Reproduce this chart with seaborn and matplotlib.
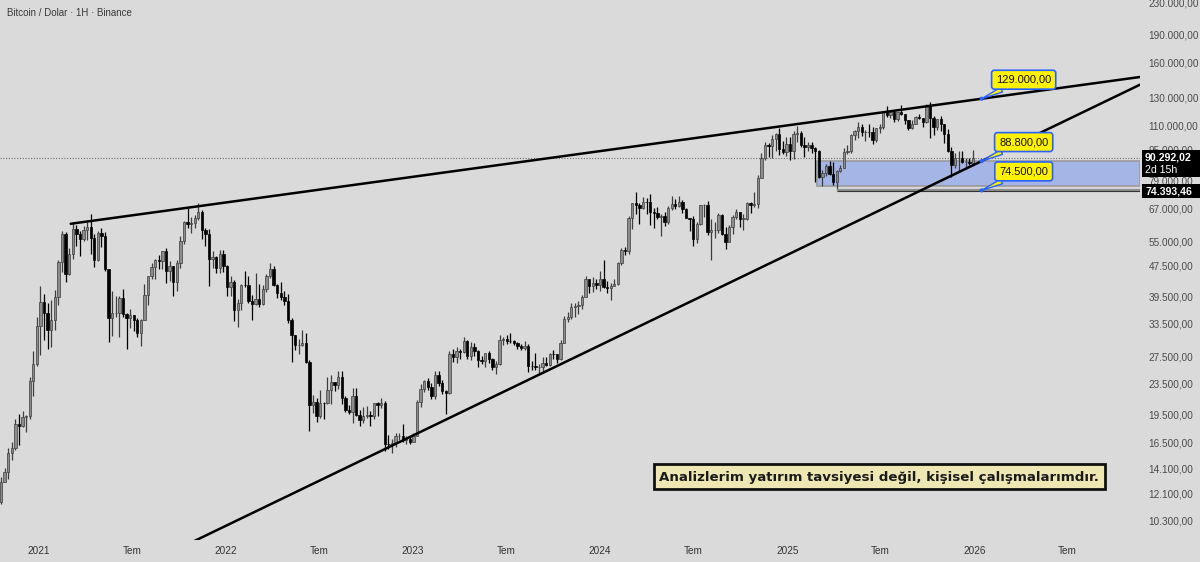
import numpy as np
import pandas as pd
import matplotlib
matplotlib.use("Agg")
import matplotlib.pyplot as plt
import matplotlib.dates as mdates
from matplotlib.patches import Rectangle
import seaborn as sns

# ---------------- data (weekly BTC candles) ----------------
first_week = "2020-10-12"
first_open = 11380
highs = [
    # 2020
    11720, 13350, 14100, 15970, 16480, 18950, 19480, 19920, 19420, 24300, 28400, 34800,
    # 2021
    41950, 40100, 37850, 38530, 40950, 49000, 58350, 58050, 52640, 61780, 60600, 58400, 60200,
    61500, 64850, 57500, 58450, 59450, 58000, 46650, 40900, 39500, 39500, 41300, 35750, 36600,
    35300, 34700, 34500, 42600, 44700, 48150, 49400, 50500, 51900, 52900, 48850, 47400, 49200,
    56550, 62000, 67000, 63700, 64300, 69000, 66300, 59300, 59200, 51950, 50150, 52100, 52100,
    # 2022
    47550, 44500, 43500, 38900, 42500, 45850, 44750, 39850, 45400, 42600, 42300, 45100, 48200,
    47500, 42450, 42950, 40800, 40000, 34700, 31300, 30650, 32200, 31800, 26900, 21900, 21500,
    22500, 21000, 24300, 24650, 23650, 25200, 25200, 21800, 20550, 22800, 22800, 19950, 20400,
    20450, 19900, 20850, 21000, 21450, 21050, 17200, 16800, 17400, 17450, 18400, 17100, 17000,
    # 2023
    17400, 21250, 23400, 23950, 24250, 23450, 25250, 25250, 24000, 22600, 28500, 28850, 29150,
    28900, 31000, 30500, 30000, 29850, 28650, 27600, 27400, 28450, 27300, 26800, 31400, 31050,
    31400, 31800, 30450, 30000, 29700, 30250, 29700, 26800, 28150, 26400, 27500, 27450, 28050,
    28600, 27950, 30350, 35200, 36000, 38000, 37950, 38400, 39700, 44500, 43450, 44400, 43800,
    # 2024
    45900, 49000, 43200, 42850, 43850, 48600, 52800, 52950, 64000, 69200, 73800, 68900, 71750,
    71350, 72800, 66900, 67250, 64750, 65500, 67700, 71950, 70600, 71950, 70200, 66950, 63300,
    63850, 61500, 68400, 68500, 70000, 62700, 61800, 65000, 64500, 59800, 60650, 64100, 66500,
    65550, 64500, 69400, 69500, 73600, 81500, 93250, 99600, 98900, 104100, 105250, 108350, 99950,
    102750,
    # 2025
    102700, 106400, 109600, 106450, 102500, 99500, 99500, 96500, 95000, 84000, 87450, 88750,
    88500, 84000, 86500, 95750, 97900, 104300, 106700, 111980, 110700, 106800, 110550, 108950,
    108500, 110550, 119500, 123200, 120250, 119800, 119400, 124500, 117600, 113600, 113400,
    116650, 117900, 115250, 125100, 126200, 116000, 113950, 116400, 110800, 107500, 96650,
    93100, 94150, 94600, 90300, 90550, 94800,
]
lows = [
    # 2020
    11200, 11410, 12960, 13200, 14840, 15780, 16200, 18100, 17570, 19000, 21800, 26000,
    # 2021
    27730, 30420, 28850, 29240, 32300, 37400, 45570, 43000, 45000, 49300, 53270, 50300, 54900,
    55470, 51000, 47040, 48800, 53000, 46000, 30000, 31200, 34800, 31000, 34800, 28800, 32700,
    32050, 31020, 29280, 34300, 37500, 43800, 43950, 46400, 46500, 42850, 43400, 39600, 40750,
    46900, 53900, 59600, 57800, 59400, 62300, 55600, 53300, 42000, 46800, 45500, 45550, 45700,
    # 2022
    39650, 39500, 34000, 32900, 36300, 41650, 38000, 34320, 37450, 37150, 37550, 40500, 44200,
    42100, 39200, 38550, 37550, 33700, 26700, 28600, 28000, 29300, 26550, 17600, 19650, 18600,
    19050, 18900, 20750, 20700, 22400, 22700, 20750, 19800, 19500, 18550, 19300, 18150, 18470,
    19100, 18200, 18900, 19250, 20200, 15600, 15800, 15480, 16000, 16700, 16500, 16300, 16350,
    # 2023
    16500, 17100, 20400, 22300, 22550, 21400, 21350, 23100, 21950, 19550, 21950, 26600, 26550,
    27200, 28200, 27150, 26950, 27650, 25800, 26300, 25880, 26500, 25350, 24800, 26250, 29500,
    29700, 29950, 29550, 28850, 28600, 28700, 25150, 25350, 25350, 24900, 24900, 26000, 26000,
    27200, 26550, 26950, 29900, 33900, 34500, 34800, 35600, 36700, 39300, 40200, 40500, 41300,
    # 2024
    40750, 41500, 40300, 38550, 41900, 42300, 47700, 50500, 50900, 59000, 64600, 60800, 66600,
    64500, 60650, 59600, 62800, 56550, 60200, 60750, 66050, 66600, 67500, 65050, 63100, 58400,
    53500, 54250, 60650, 63450, 57100, 49000, 56100, 57850, 57200, 52550, 54550, 57500, 62650,
    59850, 58900, 62450, 65050, 67450, 66850, 80200, 89400, 90800, 90500, 94200, 92250, 92500,
    91500,
    # 2025
    89250, 89950, 99500, 96800, 91200, 94100, 93400, 78250, 80000, 76600, 81150, 81650,
    77150, 74500, 83000, 85150, 92800, 93400, 100700, 102000, 103100, 100400, 102650, 98200,
    99600, 105100, 107450, 115750, 114700, 112000, 112650, 116800, 110600, 107250, 107300,
    110600, 114400, 108650, 111550, 102000, 103500, 106700, 106300, 98950, 94000, 80600,
    85300, 83800, 87600, 84450, 86600, 86800,
]
closes = [
    # 2020
    11500, 13030, 13760, 15480, 15960, 18410, 18180, 19150, 19270, 23780, 26270, 33000,
    # 2021
    38150, 35800, 32260, 34300, 39250, 48580, 57410, 45140, 50970, 59000, 57350, 55780, 58700,
    59770, 56150, 49100, 57800, 56600, 46450, 34650, 35650, 35800, 39100, 35500, 34700, 35300,
    34250, 31800, 34300, 39850, 44600, 47100, 49250, 48800, 51750, 45900, 47250, 43150, 48200,
    54950, 61500, 60900, 61300, 63300, 65500, 58600, 57300, 49400, 50100, 46700, 50800, 47300,
    # 2022
    41850, 43100, 36300, 37900, 42400, 42200, 38400, 37700, 38800, 37800, 41300, 44500, 46400,
    42150, 40400, 39450, 38450, 34300, 31300, 29450, 29450, 29900, 26600, 20550, 21000, 19300,
    20850, 20800, 22600, 23650, 23200, 24300, 21500, 20000, 19800, 21800, 19400, 18800, 19300,
    19400, 19250, 20800, 20600, 20900, 16350, 16280, 16450, 17100, 17100, 16750, 16850, 16550,
    # 2023
    17100, 20950, 22700, 23750, 22950, 21800, 24650, 23500, 22350, 22150, 28000, 27450, 28450,
    28350, 30300, 27600, 29250, 28450, 26900, 26750, 28100, 27100, 25850, 26350, 30500, 30600,
    30300, 30250, 29800, 29300, 29050, 29300, 26100, 26000, 25850, 25850, 26550, 26250, 27950,
    27900, 27150, 29950, 34500, 35000, 37050, 37350, 37450, 39450, 43800, 41900, 42700, 42300,
    # 2024
    43950, 41750, 41600, 42050, 42600, 48300, 52100, 51700, 63100, 68950, 68400, 67200, 69650,
    69350, 65650, 64950, 63400, 63950, 61500, 67050, 68500, 67750, 69650, 66700, 63200, 62700,
    55850, 60800, 68150, 68250, 58100, 58700, 58900, 64200, 57300, 54850, 59950, 63350, 65600,
    62850, 62850, 69000, 68350, 68800, 80450, 90600, 97900, 97200, 101150, 104450, 95200, 93700,
    98350,
    # 2025
    94500, 104500, 104750, 97700, 96450, 97600, 96250, 94270, 80700, 82600, 86100, 82350,
    78350, 83750, 85150, 93750, 94300, 104100, 106450, 109000, 105700, 105700, 105600, 100950,
    108350, 109200, 119100, 117300, 119400, 114200, 119300, 117400, 113500, 108250, 111150,
    115300, 115250, 112200, 123500, 115100, 108650, 114550, 110550, 104700, 94200, 86800,
    90400, 90400, 88200, 88300, 87800, 90292,
]

price_ticks = [230000, 190000, 160000, 130000, 110000, 95000, 79000, 67000, 55000, 47500,
               39500, 33500, 27500, 23500, 19500, 16500, 14100, 12100, 10300]
year_labels = ["2021", "2022", "2023", "2024", "2025", "2026"]
month_label = "Tem"

upper_anchors = (("2021-03-04", 61000), ("2026-01-15", 129000))
lower_anchors = (("2022-11-23", 16200), ("2026-01-15", 88800))
callouts = [("2026-01-15", 129000, "129.000,00"),
            ("2026-01-15", 88800, "88.800,00"),
            ("2026-01-15", 74500, "74.500,00")]
zone_start, zone_low, zone_high = "2025-02-28", 76500, 88800
support_start, support_a, support_b = "2025-04-07", 74550, 74250
last_price = 90292.02
note_text = "Analizlerim yatırım tavsiyesi değil, kişisel çalışmalarımdır."
title_text = "Bitcoin / Dolar · 1H · Binance"

# ---------------- style ----------------
BG = "#dadada"
sns.set_theme(style="white", rc={"axes.facecolor": BG, "figure.facecolor": BG})
plt.rcParams["font.family"] = ["Liberation Sans", "DejaVu Sans"]

W, H = 1200, 562
fig = plt.figure(figsize=(W / 100, H / 100), dpi=100)
ax = fig.add_axes([0, 22 / H, 1140 / W, 540 / H])
ax.set_facecolor(BG)
ax.set_yscale("log")
ax.set_ylim(9180, 233000)
xmin, xmax = pd.Timestamp("2020-10-17"), pd.Timestamp("2026-11-20")
ax.set_xlim(mdates.date2num(xmin), mdates.date2num(xmax))

# ---------------- candles ----------------
dates = pd.date_range(first_week, periods=len(closes), freq="7D")
d = mdates.date2num(dates)
c = np.array(closes, float)
o = np.concatenate([[first_open], c[:-1]])
hi = np.array(highs, float)
lo = np.array(lows, float)
up = c >= o
body_bottom = np.minimum(o, c)
body_h = np.maximum(np.abs(c - o), body_bottom * 0.002)

ax.vlines(d[up], lo[up], hi[up], color="#3d3d3d", lw=0.9, zorder=2)
ax.vlines(d[~up], lo[~up], hi[~up], color="#000000", lw=0.9, zorder=2)
ax.bar(d[up], body_h[up], bottom=body_bottom[up], width=4.6, color="#8c8c8c",
       edgecolor="#3d3d3d", linewidth=0.5, zorder=3)
ax.bar(d[~up], body_h[~up], bottom=body_bottom[~up], width=4.6, color="#000000",
       edgecolor="#000000", linewidth=0.5, zorder=3)

# ---------------- zone + support lines ----------------
zs = mdates.date2num(pd.Timestamp(zone_start))
ax.add_patch(Rectangle((zs, zone_low), mdates.date2num(xmax) - zs, zone_high - zone_low,
                       facecolor="#a4b5e6", edgecolor="#9a9a9a", lw=1.2, zorder=1.5))
ss = mdates.date2num(pd.Timestamp(support_start))
ax.hlines(support_a, ss, mdates.date2num(xmax), color="#8f8f8f", lw=1.6, zorder=4)
ax.hlines(support_b, ss, mdates.date2num(xmax), color="#333333", lw=0.8, zorder=4)
ax.axhline(last_price, color="#707070", lw=0.8, ls=(0, (1, 1.5)), zorder=1)

# ---------------- trend lines ----------------
def ray(anchors, t_from, t_to):
    (ta, pa), (tb, pb) = anchors
    ta, tb = mdates.date2num(pd.Timestamp(ta)), mdates.date2num(pd.Timestamp(tb))
    k = (np.log(pb) - np.log(pa)) / (tb - ta)
    ts = np.array([t_from, t_to])
    return ts, np.exp(np.log(pa) + k * (ts - ta))

tu, pu = ray(upper_anchors, mdates.date2num(pd.Timestamp(upper_anchors[0][0])), mdates.date2num(xmax))
tl, pl = ray(lower_anchors, mdates.date2num(pd.Timestamp("2021-06-01")), mdates.date2num(xmax))
sns.lineplot(x=tu, y=pu, ax=ax, color="#000000", lw=1.8, legend=False, zorder=5, sort=False)
sns.lineplot(x=tl, y=pl, ax=ax, color="#000000", lw=1.8, legend=False, zorder=5, sort=False)

# ---------------- callouts ----------------
cx = [mdates.date2num(pd.Timestamp(t)) for t, _, _ in callouts]
cy = [p for _, p, _ in callouts]
for (t, p, lab) in callouts:
    ax.annotate(lab, xy=(mdates.date2num(pd.Timestamp(t)), p), xytext=(42, 19),
                textcoords="offset pixels", ha="center", va="center", fontsize=8,
                color="#111111", zorder=7,
                bbox=dict(boxstyle="round,pad=0.4,rounding_size=0.25", fc="#fff200",
                          ec="#2962ff", lw=1.2),
                arrowprops=dict(arrowstyle="wedge,tail_width=0.45,shrink_factor=0.5",
                                fc="#fff200", ec="#2962ff", lw=1.0,
                                shrinkA=0, shrinkB=0))
sns.scatterplot(x=cx, y=cy, ax=ax, color="#2962ff", s=9, edgecolor="none", zorder=8, legend=False)

# ---------------- axes / ticks ----------------
ax.set_xlabel("")
ax.set_ylabel("")
for s in ax.spines.values():
    s.set_visible(False)
ax.yaxis.tick_right()
ax.yaxis.set_minor_locator(matplotlib.ticker.NullLocator())
ax.set_yticks(price_ticks)
ax.set_yticklabels([f"{v:,.2f}".replace(",", "X").replace(".", ",").replace("X", ".")
                    for v in price_ticks])
ax.tick_params(axis="y", length=0, pad=6, labelsize=7.2, labelcolor="#4a4a4a")
xt, xl = [], []
for y, lab in zip(range(2021, 2027), year_labels):
    xt += [mdates.date2num(pd.Timestamp(f"{y}-01-01")), mdates.date2num(pd.Timestamp(f"{y}-07-01"))]
    xl += [lab, month_label]
ax.set_xticks(xt)
ax.set_xticklabels(xl)
ax.tick_params(axis="x", length=0, pad=4, labelsize=7.2, labelcolor="#333333")
ax.grid(False)

# ---------------- price-axis labels ----------------
def px_rect(x0, y0, x1, y1, **kw):
    fig.patches.append(Rectangle((x0 / W, 1 - y1 / H), (x1 - x0) / W, (y1 - y0) / H,
                                 transform=fig.transFigure, **kw))

px_rect(1142, 150, 1200, 177, facecolor="#000000", edgecolor="none", zorder=5)
px_rect(1142, 184, 1200, 198, facecolor="#000000", edgecolor="none", zorder=5)
fig.text(1145 / W, 1 - 158 / H, "90.292,02", color="white", fontsize=7.6, weight="bold",
         va="center", ha="left", zorder=6)
fig.text(1145 / W, 1 - 170 / H, "2d 15h", color="white", fontsize=7.6,
         va="center", ha="left", zorder=6)
fig.text(1145 / W, 1 - 191 / H, "74.393,46", color="white", fontsize=7.6, weight="bold",
         va="center", ha="left", zorder=6)

# ---------------- note box + title ----------------
px_rect(654, 464, 1105, 489, facecolor="#eee7b4", edgecolor="#111111", lw=2, zorder=5)
fig.text(659 / W, 1 - 477 / H, note_text, family=["DejaVu Sans"], fontsize=9.6,
         weight="bold", color="#1a1a1a", va="center", ha="left", zorder=6)
fig.text(7 / W, 1 - 13 / H, title_text, fontsize=7, color="#3a3a3a", va="center",
         ha="left", zorder=6)

fig.savefig("out.png", dpi=100, facecolor=BG)
